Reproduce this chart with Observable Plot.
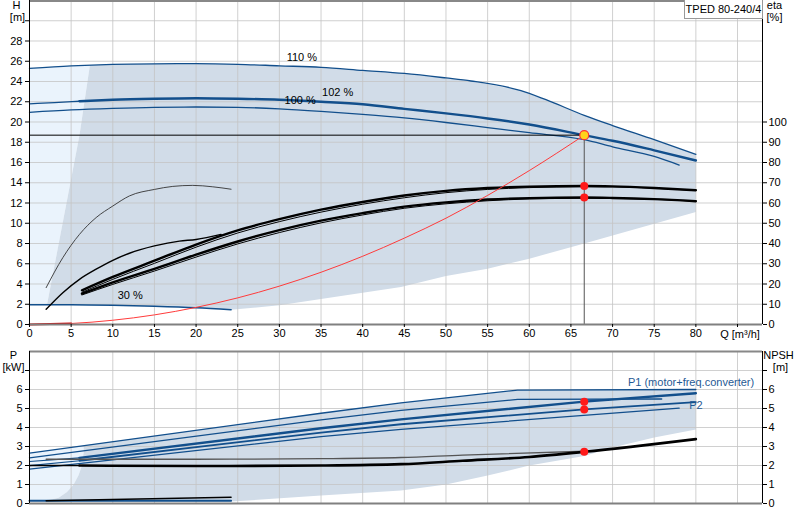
<!DOCTYPE html>
<html><head><meta charset="utf-8">
<script src="https://cdn.jsdelivr.net/npm/d3@7"></script>
<script src="https://cdn.jsdelivr.net/npm/@observablehq/plot@0.6"></script>
<style>
body{margin:0;background:#fff;font-family:"Liberation Sans",Arial,sans-serif;}
#wrap{position:relative;width:800px;height:520px;overflow:hidden;}
#top{position:absolute;left:0;top:0;}
#bot{position:absolute;left:0;top:345px;}
#legend{position:absolute;left:684px;top:0;width:77px;height:18px;border:1px solid #999;border-top:none;background:#fff;font-size:11px;line-height:18px;text-align:center;color:#000;}
</style></head><body>
<div id="wrap"><div id="top"></div><div id="bot"></div><div id="legend">TPED 80-240/4</div></div>
<script>
// ---------- tick values ----------
const xTicks = [0,5,10,15,20,25,30,35,40,45,50,55,60,65,70,75,80];
const xGrid = [5,10,15,20,25,30,35,40,45,50,55,60,65,70,75,80,85];
const hTicks = [0,2,4,6,8,10,12,14,16,18,20,22,24,26,28];
const hGrid = [2,4,6,8,10,12,14,16,18,20,22,24,26,28,30];
const etaTicks = [0,10,20,30,40,50,60,70,80,90,100];
const pTicks = [0,1,2,3,4,5,6];
const pGrid = [1,2,3,4,5,6,7];

// ---------- head curves [Q m3/h, H m] ----------
const h110 = [[0,25.3],[5,25.55],[10,25.7],[15,25.75],[20,25.76],[25,25.7],[30,25.55],[35,25.4],[40,25.1],[45,24.8],[50,24.35],[53,24.05],[59,23.1],[62,22.2],[66.6,20.66],[70,19.65],[75,18.25],[80,16.8]];
const h102 = [[0,21.8],[3,21.92],[6,22.05],[10,22.2],[15,22.3],[20,22.35],[25,22.3],[30,22.2],[35,22.0],[40,21.75],[45,21.3],[50,20.85],[55,20.35],[60,19.75],[66.6,18.7],[70,18.15],[75,17.2],[80,16.2]];
const h100 = [[0,20.96],[5,21.2],[10,21.35],[15,21.45],[20,21.48],[25,21.45],[30,21.3],[35,21.05],[40,20.75],[45,20.4],[50,19.95],[55,19.45],[60,18.95],[66.6,18.25],[70,17.55],[75,16.6],[78,15.75]];
const h30 = [[0,1.95],[5,1.95],[10,1.9],[15,1.8],[20,1.65],[24.2,1.45]];
const systemCurve = [[0,0],[5,0.1],[10,0.42],[15,0.95],[20,1.69],[25,2.63],[30,3.79],[35,5.16],[40,6.74],[45,8.53],[50,10.5],[55,12.75],[60,15.2],[66.6,18.7]];
const opPoint = [[66.6,18.7]];

// ---------- efficiency curves [Q, eta %] ----------
const etaUpper = [[6.3,16.9],[10,23.5],[15,31.5],[20,39.5],[25,46.5],[30,52],[35,56.7],[40,60.5],[45,63.7],[50,66],[55,67.4],[60,68.1],[66.6,68.4],[70,68.2],[75,67.4],[80,66.3]];
const etaUpperThin = [[6.3,15.9],[10,22.3],[15,30.2],[20,38.2],[25,45.2],[30,50.8],[35,55.5],[40,59.4],[45,62.6],[50,65.1],[55,66.7],[60,67.6],[66.6,68.1],[70,68],[75,67.3],[80,66.2]];
const etaLower = [[6.3,15.2],[10,20.8],[15,27.5],[20,34.5],[25,41],[30,46.6],[35,51.3],[40,55],[45,58.2],[50,60.3],[55,61.7],[60,62.4],[66.6,62.7],[70,62.5],[75,61.9],[80,60.9]];
const etaLowerThin = [[6.3,14.6],[10,19.8],[15,26.4],[20,33.3],[25,39.8],[30,45.4],[35,50.2],[40,54.1],[45,57.4],[50,59.6],[55,61.1],[60,62],[66.6,62.4],[70,62.3],[75,61.8],[80,60.8]];
const etaCurveA = [[2,7.5],[4,15.7],[6,22.3],[8,27.3],[10,31.7],[12,35.2],[15,38.8],[18,41.2],[20,42],[23,44.5]];
const etaThin = [[2,18.2],[4,33],[6,44.5],[8,52.8],[10,58.5],[12,63.5],[15,66.7],[17.2,68.2],[19.6,68.7],[22,68],[24.2,66.8]];
const etaDuty = [[66.6,68.4],[66.6,62.7]];

// ---------- shaded operating areas (top) ----------
const regionLeftEdge = [[2.1,1.95],[6.0,18.7],[7.25,25.6]];
const regionBottomEdge = [[24.2,1.45],[30,1.9],[44.6,3.7],[50,4.8],[55,5.5],[60,6.5],[66.6,8.0],[70,8.8],[80,11.1]];

// ---------- power curves [Q, P kW] ----------
const pA = [[0,2.65],[35,4.75],[44.6,5.3],[58.6,5.97],[80,6.0]];
const pB = [[0,2.4],[35,4.4],[44.6,4.9],[58.6,5.48],[75.9,5.5]];
const pD = [[0,2.21],[6,2.4],[35,3.96],[44.6,4.43],[66.6,5.36],[80,5.8]];
const pE = [[0,1.99],[6,2.25],[35,3.73],[44.6,4.17],[66.6,4.95],[80,5.34]];
const pF = [[0,1.81],[35,3.52],[44.6,3.9],[78,5.02]];
const p30Blue = [[0,0.15],[24.2,0.15]];
const p30Black = [[2,0.15],[24.2,0.33]];
// ---------- NPSH [Q, m] ----------
const npshThick = [[0,2.0],[6,2.0],[20,1.97],[35,2.0],[44.6,2.07],[52,2.25],[60,2.45],[66.6,2.72],[80,3.39]];
const npshThin = [[2,2.33],[20,2.33],[35,2.36],[44.6,2.42],[52,2.55],[66.6,2.75]];
const bottomDuty = [[66.6,5.36],[66.6,4.95],[66.6,2.72]];
// ---------- shaded areas (bottom) ----------
const pLightEdge = [[2.0,0.15],[3.5,0.3],[4.5,0.6],[5.3,1.0],[5.9,1.5],[6.3,2.0],[6.5,2.7],[6.5,3.05]];
const pBottomEdge = [[80,3.9],[75,3.47],[70,2.95],[66.6,2.5],[60,2.0],[55,1.47],[50,1.0],[44.6,0.68],[35,0.42],[24.2,0.1],[2.0,0.1]];

// ---------- build ----------
const blue = "#124f8c";
const font = "'Liberation Sans', Arial, sans-serif";
const P = a => a.map(([q,v]) => ({q, v}));
const E = a => a.map(([q,e]) => ({q, v: e / 5})); // eta axis: 100 % = 20 m

const topLightPoly = P([[0, h30[0][1]], ...h110.filter(d => d[0] < regionLeftEdge[2][0]), ...regionLeftEdge.slice().reverse()]);
const topGrayPoly = P([...regionLeftEdge, ...h110.filter(d => d[0] > regionLeftEdge[2][0]),
  ...regionBottomEdge.slice().reverse(), ...h30.filter(d => d[0] > regionLeftEdge[0][0] && d[0] < 24.2).reverse()]);

const botLightPoly = P([[0, pLightEdge[0][1]], [0, pA[0][1]], ...pLightEdge.slice().reverse()]);
const botGrayPoly = P([...pLightEdge, ...pA.filter(d => d[0] > 6.5), ...pBottomEdge]);

const cv = "monotone-x";
const L = (data, stroke, w, extra={}) => Plot.line(data, {x:"q", y:"v", stroke, strokeWidth:w, curve:cv, ...extra});

const topPlot = Plot.plot({
  width: 800, height: 345, marginLeft: 29, marginRight: 38, marginTop: 0, marginBottom: 21,
  x: {domain: [0, 88]},
  y: {domain: [0, 32]},
  style: {fontFamily: font, fontSize: "11px", color: "#000", background: "transparent", overflow: "visible"},
  marks: [
    Plot.line(topLightPoly, {x:"q", y:"v", fill:"#eaf3fc", stroke:"none"}),
    Plot.line(topGrayPoly, {x:"q", y:"v", fill:"#d1dce8", stroke:"none"}),
    Plot.ruleX(xGrid, {stroke:"#c4c4c4", strokeOpacity:0.8}),
    Plot.ruleY(hGrid, {stroke:"#c4c4c4", strokeOpacity:0.8}),
    Plot.ruleY([31.95], {stroke:"#888", strokeWidth:2}),
    // head curves
    L(P(h110), blue, 1.3),
    L(P(h102.filter(d => d[0] <= 6)), blue, 1.3),
    L(P(h102.filter(d => d[0] >= 6)), blue, 2.4),
    L(P(h100), blue, 1.3),
    L(P(h30), blue, 1.6),
    // efficiency curves
    L(E(etaThin), "#333", 0.9),
    L(E(etaCurveA), "#000", 1.4),
    L(E(etaUpperThin), "#000", 1),
    L(E(etaUpper), "#000", 2.4),
    L(E(etaLowerThin), "#000", 1),
    L(E(etaLower), "#000", 2.4),
    // duty lines
    Plot.ruleY(opPoint, {y: d => d[1], x1: 0, x2: d => d[0], stroke:"#000", strokeWidth:1}),
    Plot.ruleX(opPoint, {x: d => d[0], y1: 0, y2: d => d[1], stroke:"#555", strokeWidth:1}),
    L(P(systemCurve), "#ff3b3b", 1),
    L(P(systemCurve.filter(d => d[0] <= 5)), "#d00000", 2.2),
    Plot.dot(E(etaDuty), {x:"q", y:"v", r:4, fill:"#ff1a1a", stroke:"none"}),
    Plot.dot(P(opPoint), {x:"q", y:"v", r:4.5, fill:"#ffd21a", stroke:"#ff3030", strokeWidth:1.2}),
    // frame & axes
    Plot.ruleY([0], {stroke:"#808080", strokeWidth:2}),
    Plot.ruleX([0], {stroke:"#000"}),
    Plot.ruleX([88], {stroke:"#000"}),
    Plot.axisY(hTicks, {anchor:"left", tickSize:4, tickPadding:3, label:null}),
    Plot.axisY([30], {anchor:"left", tickSize:4, tickFormat:() => "", label:null}),
    Plot.axisY(etaTicks.map(e => e / 5), {anchor:"right", tickSize:4, tickPadding:2, tickFormat: h => Math.round(h * 5), label:null}),
    Plot.axisX([...xTicks, 85], {anchor:"bottom", tickSize:3, tickPadding:2, tickFormat: d => d === 85 ? "" : d, label:null}),
    // texts
    Plot.text(["110 %"], {x:32.7, y:26.4, text:d=>d, fill:"#000"}),
    Plot.text(["102 %"], {x:37.0, y:22.95, text:d=>d, fill:"#000"}),
    Plot.text(["100 %"], {x:32.5, y:22.1, text:d=>d, fill:"#000"}),
    Plot.text(["30 %"], {x:12.1, y:2.83, text:d=>d, fill:"#000"}),
    Plot.text(["H"], {x:0, y:31.5, dx:-13, text:d=>d, fill:"#000"}),
    Plot.text(["[m]"], {x:0, y:30.35, dx:-12, text:d=>d, fill:"#000"}),
    Plot.text(["eta"], {x:88, y:31.5, dx:12, text:d=>d, fill:"#000"}),
    Plot.text(["[%]"], {x:88, y:30.35, dx:12, text:d=>d, fill:"#000"}),
    Plot.text(["Q [m³/h]"], {x:85.3, y:-1.0, text:d=>d, fill:"#000"})
  ]
});
document.getElementById("top").append(topPlot);

const botPlot = Plot.plot({
  width: 800, height: 175, marginLeft: 29, marginRight: 38, marginTop: 6, marginBottom: 17,
  x: {domain: [0, 88]},
  y: {domain: [0, 8]},
  style: {fontFamily: font, fontSize: "11px", color: "#000", background: "transparent", overflow: "visible"},
  marks: [
    Plot.line(botLightPoly, {x:"q", y:"v", fill:"#eaf3fc", stroke:"none"}),
    Plot.line(botGrayPoly, {x:"q", y:"v", fill:"#d1dce8", stroke:"none"}),
    Plot.ruleX(xGrid, {stroke:"#c4c4c4", strokeOpacity:0.8}),
    Plot.ruleY(pGrid, {stroke:"#c4c4c4", strokeOpacity:0.8}),
    Plot.ruleY([8], {stroke:"#888", strokeWidth:2}),
    L(P(pA), blue, 1.3, {curve:"linear"}),
    L(P(pB), blue, 1.3, {curve:"linear"}),
    L(P(pF), blue, 1.2, {curve:"linear"}),
    L(P(pE.filter(d => d[0] <= 6)), blue, 1.2, {curve:"linear"}),
    L(P(pE.filter(d => d[0] >= 6)), blue, 1.8, {curve:"linear"}),
    L(P(pD.filter(d => d[0] <= 6)), blue, 1.2, {curve:"linear"}),
    L(P(pD.filter(d => d[0] >= 6)), blue, 2.4, {curve:"linear"}),
    L(P(npshThin), "#555", 1.3),
    L(P(npshThick.filter(d => d[0] <= 6)), "#000", 1.3),
    L(P(npshThick.filter(d => d[0] >= 6)), "#000", 2.6),
    L(P(p30Blue), blue, 2, {curve:"linear"}),
    L(P(p30Black), "#000", 1.5, {curve:"linear"}),
    Plot.dot(P(bottomDuty), {x:"q", y:"v", r:4, fill:"#ff1a1a", stroke:"none"}),
    Plot.ruleY([0], {stroke:"#808080", strokeWidth:2}),
    Plot.ruleX([0], {stroke:"#000"}),
    Plot.ruleX([88], {stroke:"#000"}),
    Plot.axisY(pTicks, {anchor:"left", tickSize:4, tickPadding:3, label:null}),
    Plot.axisY([7], {anchor:"left", tickSize:4, tickFormat:() => "", label:null}),
    Plot.axisY(pTicks, {anchor:"right", tickSize:4, tickPadding:2, label:null}),
    Plot.axisY([7], {anchor:"right", tickSize:4, tickFormat:() => "", label:null}),
    Plot.axisX(xTicks, {anchor:"bottom", tickSize:0, tickFormat:() => "", label:null}),
    Plot.text(["P1 (motor+freq.converter)"], {x:87, y:6.38, text:d=>d, textAnchor:"end", fill:"#1f5a94"}),
    Plot.text(["P2"], {x:79.2, y:5.16, text:d=>d, textAnchor:"start", fill:"#1f5a94"}),
    Plot.text(["P"], {x:0, y:7.79, dx:-16, text:d=>d, fill:"#000"}),
    Plot.text(["[kW]"], {x:0, y:7.17, dx:-16, text:d=>d, fill:"#000"}),
    Plot.text(["NPSH"], {x:88, y:7.79, dx:16, text:d=>d, fill:"#000"}),
    Plot.text(["[m]"], {x:88, y:7.17, dx:18, text:d=>d, fill:"#000"})
  ]
});
document.getElementById("bot").append(botPlot);
</script>
</body></html>
